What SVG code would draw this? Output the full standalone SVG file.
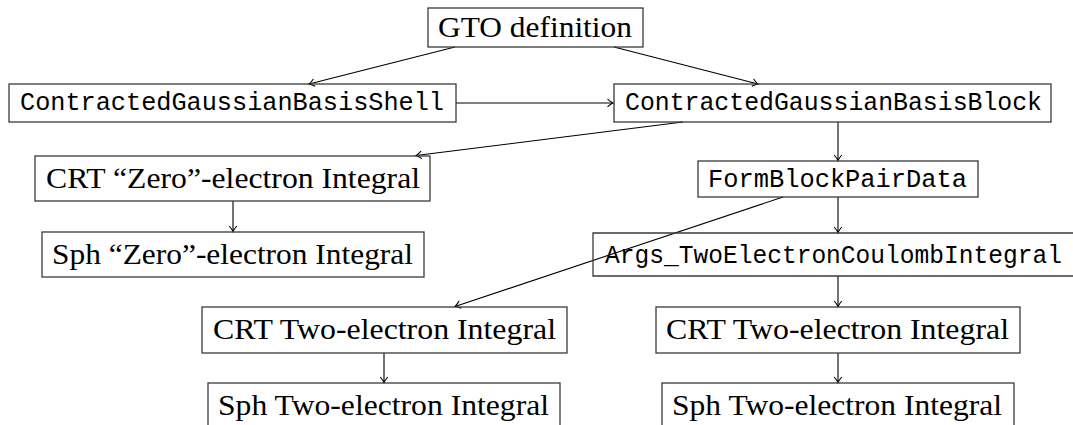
<svg xmlns="http://www.w3.org/2000/svg" width="1073" height="425" viewBox="0 0 1073 425">
<style>
.box{fill:none;stroke:#3a3a3a;stroke-width:1.3}
.rm{font-family:"Liberation Serif","DejaVu Serif",serif;font-size:29px;fill:#000}
.tt{font-family:"Liberation Mono","DejaVu Sans Mono",monospace;font-size:25.5px;fill:#000}
.edge{fill:none;stroke:#000;stroke-width:1.1;marker-end:url(#arr)}
</style>
<defs>
<marker id="arr" markerUnits="userSpaceOnUse" markerWidth="12" markerHeight="12" viewBox="-7 -6 8 12" refX="0" refY="0" orient="auto">
<path d="M-5.5,-3.8 Q-1.8,-0.6 0,0 Q-1.8,0.6 -5.5,3.8" fill="none" stroke="#000" stroke-width="1.1"/>
</marker>
</defs>
<rect width="1073" height="425" fill="#fff"/>
<g id="connectors">
<line class="edge" x1="455" y1="47" x2="309" y2="84"/>
<line class="edge" x1="614" y1="47" x2="758" y2="84"/>
<line class="edge" x1="456" y1="103" x2="613" y2="103"/>
<line class="edge" x1="683" y1="122" x2="416" y2="155.5"/>
<line class="edge" x1="838" y1="122" x2="838" y2="160.5"/>
<line class="edge" x1="233" y1="201" x2="233" y2="231.5"/>
<line class="edge" x1="838" y1="197" x2="838" y2="232.5"/>
<line class="edge" x1="783" y1="197" x2="455" y2="306.5"/>
<line class="edge" x1="838" y1="276" x2="838" y2="306.5"/>
<line class="edge" x1="384" y1="353" x2="384" y2="382.5"/>
<line class="edge" x1="838" y1="353" x2="838" y2="382.5"/>
</g>
<g id="gto"><rect class="box" x="428" y="8" width="215" height="39"/><text class="rm" x="438" y="37" textLength="194" lengthAdjust="spacingAndGlyphs">GTO definition</text></g>
<g id="shell"><rect class="box" x="9" y="84" width="447" height="38"/><text class="tt" x="20" y="110" textLength="424" lengthAdjust="spacingAndGlyphs">ContractedGaussianBasisShell</text></g>
<g id="block"><rect class="box" x="614" y="84" width="437" height="38"/><text class="tt" x="625" y="110" textLength="417" lengthAdjust="spacingAndGlyphs">ContractedGaussianBasisBlock</text></g>
<g id="crt-zero"><rect class="box" x="35" y="156" width="395" height="45"/><text class="rm" x="46" y="188" textLength="374" lengthAdjust="spacingAndGlyphs">CRT “Zero”-electron Integral</text></g>
<g id="sph-zero"><rect class="box" x="42" y="232" width="382" height="45"/><text class="rm" x="52" y="264" textLength="361" lengthAdjust="spacingAndGlyphs">Sph “Zero”-electron Integral</text></g>
<g id="fbpd"><rect class="box" x="698" y="161" width="280" height="36"/><text class="tt" x="708" y="187" textLength="259" lengthAdjust="spacingAndGlyphs">FormBlockPairData</text></g>
<g id="args"><path class="box" d="M1073,233 H593 V276 H1073"/><text class="tt" x="605" y="263" textLength="457" lengthAdjust="spacingAndGlyphs">Args_TwoElectronCoulombIntegral</text></g>
<g id="crt-two-left"><rect class="box" x="202" y="307" width="365" height="46"/><text class="rm" x="213" y="339" textLength="343" lengthAdjust="spacingAndGlyphs">CRT Two-electron Integral</text></g>
<g id="crt-two-right"><rect class="box" x="656" y="307" width="364" height="46"/><text class="rm" x="666" y="339" textLength="343" lengthAdjust="spacingAndGlyphs">CRT Two-electron Integral</text></g>
<g id="sph-two-left"><rect class="box" x="208" y="383" width="352" height="46"/><text class="rm" x="218" y="415" textLength="331" lengthAdjust="spacingAndGlyphs">Sph Two-electron Integral</text></g>
<g id="sph-two-right"><rect class="box" x="662" y="383" width="352" height="46"/><text class="rm" x="672" y="415" textLength="330" lengthAdjust="spacingAndGlyphs">Sph Two-electron Integral</text></g>
</svg>
